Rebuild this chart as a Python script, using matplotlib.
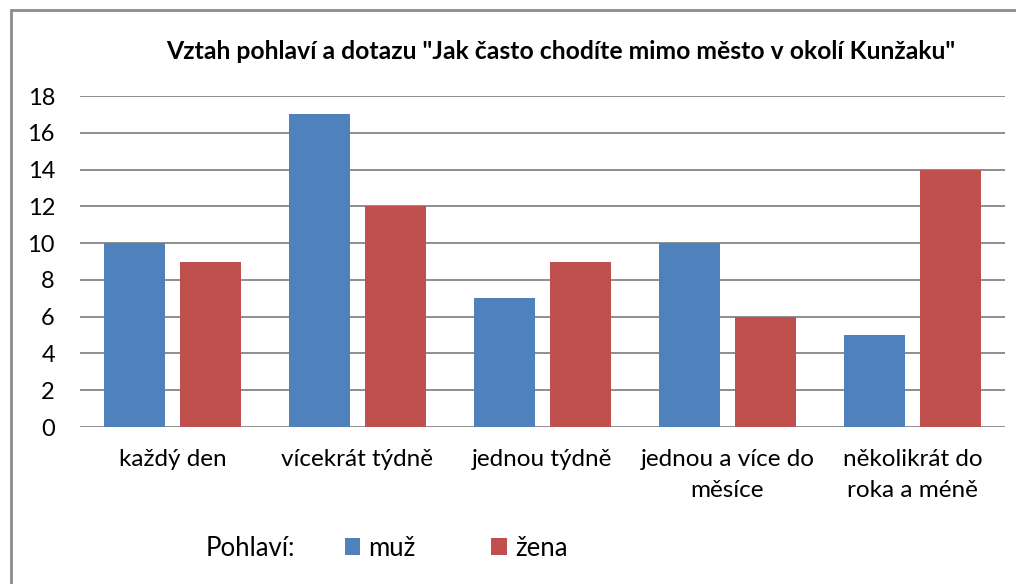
import numpy as np
import matplotlib
matplotlib.use("Agg")
import matplotlib.pyplot as plt
from matplotlib.patches import Rectangle

# data
categories = ["každý den", "vícekrát týdně", "jednou týdně",
              "jednou a více do\nměsíce", "několikrát do\nroka a méně"]
muz = [10, 17, 7, 10, 5]
zena = [9, 12, 9, 6, 14]
series_names = ["muž", "žena"]
yticks = [0, 2, 4, 6, 8, 10, 12, 14, 16, 18]

plt.rcParams['font.family'] = ['Lato', 'DejaVu Sans']

fig = plt.figure(figsize=(10.16, 5.84), dpi=100)
ax = fig.add_axes([0.0787, 0.2688, 0.9103, 0.5668])

x = np.arange(len(categories))
w = 0.33
b1 = ax.bar(x - 0.207, muz, w, color="#4F81BD", zorder=3)
b2 = ax.bar(x + 0.207, zena, w, color="#C0504D", zorder=3)

ax.set_xlim(-0.5, len(categories) - 0.5)
ax.set_ylim(0, 18)
ax.set_yticks(yticks)
ax.set_xticks(x)
ax.set_xticklabels(categories, fontsize=17.5, linespacing=1.6)
ax.tick_params(axis="x", length=0, pad=16)
ax.tick_params(axis="y", length=0, pad=18, labelsize=17)
ax.grid(axis="y", color="#868686", linewidth=1.3, zorder=0)
for s in ax.spines.values():
    s.set_visible(False)

fig.text(0.552, 0.912, 'Vztah pohlaví a dotazu "Jak často chodíte mimo město v okolí Kunžaku"',
         ha="center", va="center", fontsize=17.8, fontweight="bold")

fig.text(206 / 1016, 1 - 548 / 584, "Pohlaví:", ha="left", va="center", fontsize=18.5)
ax.legend([b1, b2], series_names, ncol=2, frameon=False, fontsize=18.5,
          loc="center left", bbox_to_anchor=(324 / 1016, 1 - 548 / 584),
          bbox_transform=fig.transFigure, handlelength=0.62, handleheight=0.62,
          handletextpad=0.3, columnspacing=2.95, borderpad=0.3)

# outer frame
fig.patches.append(Rectangle((11 / 1016, -0.1), 1.2, 1 - 10 / 584 + 0.1,
                             transform=fig.transFigure, fill=False,
                             edgecolor="#8c8c8c", linewidth=2))

fig.savefig("out.png", dpi=100)
